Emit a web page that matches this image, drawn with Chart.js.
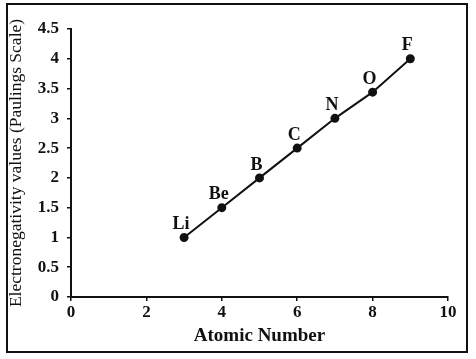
<!DOCTYPE html>
<html>
<head>
<meta charset="utf-8">
<script src="https://cdn.jsdelivr.net/npm/chart.js@4"></script>
<style>
  html, body { margin: 0; padding: 0; background: #fff; }
  #wrap { position: relative; width: 476px; height: 359px; }
  #frame { position: absolute; left: 6px; top: 3px; width: 458px; height: 346px; border: 2px solid #111; pointer-events: none; }
  canvas { position: absolute; left: 0; top: 0; }
</style>
</head>
<body>
<div id="wrap">
  <canvas id="chart" width="476" height="359"></canvas>
  <div id="frame"></div>
</div>
<script>
// values
const elements = ['Li', 'Be', 'B', 'C', 'N', 'O', 'F'];
const atomicNumbers = [3, 4, 5, 6, 7, 8, 9];
const electronegativity = [1.0, 1.5, 2.0, 2.5, 3.0, 3.44, 4.0];
const xTicks = [0, 2, 4, 6, 8, 10];
const yTicks = [0, 0.5, 1, 1.5, 2, 2.5, 3, 3.5, 4, 4.5];

const serif = '"Liberation Serif", "DejaVu Serif", serif';

// element symbol above each point
const pointLabels = {
    id: 'pointLabels',
    afterDatasetsDraw(chart) {
        const ctx = chart.ctx;
        const meta = chart.getDatasetMeta(0);
        ctx.save();
        ctx.font = 'bold 18px ' + serif;
        ctx.fillStyle = '#111';
        ctx.textAlign = 'center';
        ctx.textBaseline = 'middle';
        meta.data.forEach((pt, i) => {
            ctx.fillText(elements[i], pt.x - 3, pt.y - 13);
        });
        ctx.restore();
    }
};

const ctx = document.getElementById('chart').getContext('2d');
new Chart(ctx, {
    type: 'scatter',
    data: {
        datasets: [{
            data: atomicNumbers.map((x, i) => ({ x: x, y: electronegativity[i] })),
            showLine: true,
            borderColor: '#111',
            borderWidth: 2,
            pointRadius: 3.5,
            pointBackgroundColor: '#111',
            pointBorderColor: '#111'
        }]
    },
    options: {
        responsive: false,
        animation: false,
        layout: { padding: { left: 6, top: 29, right: 28, bottom: 12 } },
        plugins: { legend: { display: false }, tooltip: { enabled: false } },
        scales: {
            x: {
                type: 'linear',
                min: 0, max: 10,
                afterBuildTicks: s => { s.ticks = xTicks.map(v => ({ value: v })); },
                afterFit: s => { s.height = 50; },
                grid: { display: true, drawOnChartArea: false, tickLength: 4, color: '#111', lineWidth: 1.5 },
                border: { color: '#111', width: 2 },
                ticks: { color: '#111', padding: 1, font: { family: serif, size: 17, weight: 'bold' } },
                title: { display: true, text: 'Atomic Number', color: '#111', padding: { top: 0, bottom: 0 }, font: { family: serif, size: 19, weight: 'bold' } }
            },
            y: {
                min: 0, max: 4.5,
                afterBuildTicks: s => { s.ticks = yTicks.map(v => ({ value: v })); },
                afterFit: s => { s.width = 65; },
                grid: { display: true, drawOnChartArea: false, tickLength: 4, color: '#111', lineWidth: 1.5 },
                border: { color: '#111', width: 2 },
                ticks: { color: '#111', padding: 8, callback: v => String(v), font: { family: serif, size: 17, weight: 'bold' } },
                title: { display: true, text: 'Electronegativity values (Paulings Scale)', color: '#111', padding: { top: 0, bottom: 0 }, font: { family: serif, size: 17.5 } }
            }
        }
    },
    plugins: [pointLabels]
});
</script>
</body>
</html>
